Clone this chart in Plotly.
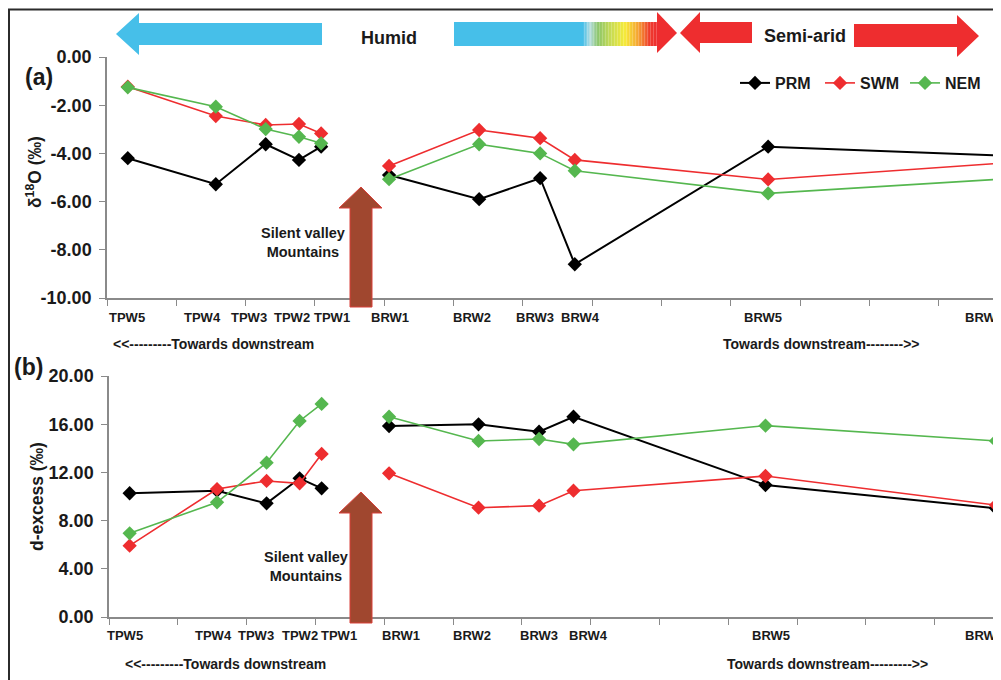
import plotly.graph_objects as go

# ---------------- data ----------------
sites = ["TPW5", "TPW4", "TPW3", "TPW2", "TPW1",
         "BRW1", "BRW2", "BRW3", "BRW4", "BRW5", "BRW6"]
site_km = [3.0, 15.7, 22.9, 27.7, 30.9, 40.7, 53.7, 62.5, 67.5, 95.4, 128.9]

d18o_prm = [-4.20, -5.28, -3.62, -4.27, -3.72, -4.90, -5.90, -5.03, -8.60, -3.72, -4.09]
d18o_swm = [-1.23, -2.45, -2.82, -2.78, -3.17, -4.52, -3.03, -3.37, -4.27, -5.08, -4.41]
d18o_nem = [-1.26, -2.06, -2.99, -3.31, -3.58, -5.07, -3.62, -4.00, -4.72, -5.66, -5.07]

dex_prm = [10.27, 10.48, 9.43, 11.51, 10.68, 15.85, 15.99, 15.38, 16.62, 10.95, 9.02]
dex_swm = [5.92, 10.62, 11.29, 11.09, 13.53, 11.92, 9.07, 9.24, 10.48, 11.70, 9.29]
dex_nem = [6.94, 9.52, 12.81, 16.27, 17.68, 16.62, 14.61, 14.77, 14.33, 15.88, 14.61]

series_names = ["PRM", "SWM", "NEM"]
y_ticks_a = [0, -2, -4, -6, -8, -10]
y_ticks_b = [0, 4, 8, 12, 16, 20]

# ---------------- styling ----------------
W, H = 1001, 680
OFF = 8  # page offset of the figure inside the browser window
FONT = "Liberation Sans"
TXT = "#1a1a1a"
AX = "#8a8a8a"
colors = {"PRM": "#000000", "SWM": "#EE2D2F", "NEM": "#55B74F"}
widths = {"PRM": 2.0, "SWM": 1.6, "NEM": 1.6}
nudge_a = [-1, -13, -17, -7, 11, 1, -7, -5, 6, -5, -16]
nudge_b = [-5, -4, -11, 0, 17, 12, -7, 0, 15, 6, -12]


def fx(p):
    return (p - OFF) / W


def fy(p):
    return 1 - (p - OFF) / H


def with_gap(vals):
    # break the line between the two river stretches (TPW / BRW)
    split = sum(1 for s in sites if s.startswith("TPW"))
    return list(vals[:split]) + [None] + list(vals[split:])


fig = go.Figure()
panel_a = {"PRM": d18o_prm, "SWM": d18o_swm, "NEM": d18o_nem}
panel_b = {"PRM": dex_prm, "SWM": dex_swm, "NEM": dex_nem}
xg = with_gap(site_km)
for name in series_names:
    fig.add_trace(go.Scatter(
        x=xg, y=with_gap(panel_a[name]), name=name, mode="lines+markers",
        line=dict(color=colors[name], width=widths[name]),
        marker=dict(symbol="diamond", size=11, color=colors[name]),
        xaxis="x", yaxis="y", connectgaps=False, showlegend=True))
for name in series_names:
    fig.add_trace(go.Scatter(
        x=xg, y=with_gap(panel_b[name]), name=name, mode="lines+markers",
        line=dict(color=colors[name], width=widths[name]),
        marker=dict(symbol="diamond", size=11, color=colors[name]),
        xaxis="x2", yaxis="y2", connectgaps=False, showlegend=False,
        cliponaxis=False))

tickfont = dict(family=FONT, size=18, color=TXT, weight="bold")
common_x = dict(showline=True, linecolor=AX, linewidth=1.5, ticks="outside",
                ticklen=6, tickcolor=AX, tickwidth=1.2, tick0=0, dtick=10,
                showticklabels=False, showgrid=False, zeroline=False,
                automargin=False)
common_y = dict(showline=True, linecolor=AX, linewidth=1.5, ticks="outside",
                ticklen=6, tickcolor=AX, tickwidth=1.2, showgrid=False,
                zeroline=False, tickfont=tickfont, ticklabelstandoff=4,
                automargin=False)

fig.update_layout(
    width=W, height=H, margin=dict(l=0, r=0, t=0, b=0, pad=0, autoexpand=False),
    paper_bgcolor="white", plot_bgcolor="white",
    xaxis=dict(domain=[fx(107), fx(1001)], range=[0, 129.0], anchor="y", **common_x),
    yaxis=dict(domain=[fy(298), fy(57)], range=[-10, 0], anchor="x",
               tickvals=y_ticks_a, ticktext=[f"{v:.2f}" for v in y_ticks_a], **common_y),
    xaxis2=dict(domain=[fx(109), fx(996)], range=[0, 128.9], anchor="y2", **common_x),
    yaxis2=dict(domain=[fy(617), fy(376)], range=[0, 20], anchor="x2",
                tickvals=y_ticks_b, ticktext=[f"{v:.2f}" for v in y_ticks_b], **common_y),
    legend=dict(orientation="h", x=fx(990), xanchor="right", y=fy(83), yanchor="middle",
                font=dict(family=FONT, size=16, color=TXT, weight="bold"),
                bgcolor="rgba(0,0,0,0)", itemwidth=30, tracegroupgap=0,
                entrywidth=40),
    showlegend=True,
)

ann = []


def text(x, y, s, size, **kw):
    ann.append(dict(x=fx(x), y=fy(y), xref="paper", yref="paper", text=s,
                    showarrow=False, xanchor=kw.pop("xanchor", "center"),
                    yanchor="middle",
                    font=dict(family=FONT, size=size, color=TXT, weight="bold"), **kw))


# site labels
for i, s in enumerate(sites):
    ann.append(dict(x=site_km[i], y=fy(318), xref="x", yref="paper", text=s,
                    showarrow=False, xshift=nudge_a[i], yanchor="middle",
                    font=dict(family=FONT, size=13, color=TXT, weight="bold")))
    ann.append(dict(x=site_km[i], y=fy(635), xref="x2", yref="paper", text=s,
                    showarrow=False, xshift=nudge_b[i], yanchor="middle",
                    font=dict(family=FONT, size=13, color=TXT, weight="bold")))

text(213, 344, "&lt;&lt;---------Towards downstream", 14)
text(821, 344, "Towards downstream--------&gt;&gt;", 14)
text(225, 664, "&lt;&lt;---------Towards downstream", 14)
text(827, 664, "Towards downstream---------&gt;&gt;", 14)
text(39, 77, "(a)", 23)
text(28, 367, "(b)", 23)
text(389, 38, "Humid", 18)
text(805, 36, "Semi-arid", 18)
text(303, 242, "Silent valley<br>Mountains", 14.5)
text(306, 566, "Silent valley<br>Mountains", 14.5)
text(34, 172, "δ<sup>18</sup>O (‰)", 17.5, textangle=-90)
text(37, 497, "d-excess (‰)", 17.5, textangle=-90)
fig.update_layout(annotations=ann)

# ---------------- decorative arrows ----------------
shapes = []


def poly(pts, fill, line_color=None, lw=0):
    path = "M " + " L ".join(f"{fx(x):.5f},{fy(y):.5f}" for x, y in pts) + " Z"
    shapes.append(dict(type="path", xref="paper", yref="paper", path=path,
                       fillcolor=fill, line=dict(color=line_color or fill, width=lw),
                       layer="above"))


BLUE = "#46BFE9"
RED = "#EE2D2F"
# humid arrow pointing left
poly([(116, 34), (139, 13), (139, 23), (322, 23), (322, 45), (139, 45), (139, 55)], BLUE)
# humid -> semi-arid gradient arrow pointing right
poly([(454, 22), (584, 22), (584, 46), (454, 46)], BLUE)
stops = [(583, (70, 191, 233)), (590, (181, 221, 224)), (598, (141, 198, 107)),
         (610, (196, 218, 85)), (625, (246, 235, 58)), (638, (245, 164, 52)),
         (650, (238, 58, 46)), (658, (238, 45, 47))]


def interp(x):
    for (x0, c0), (x1, c1) in zip(stops[:-1], stops[1:]):
        if x0 <= x <= x1:
            t = (x - x0) / (x1 - x0)
            return tuple(round(a + (b - a) * t) for a, b in zip(c0, c1))
    return stops[-1][1]


xs = 583.0
while xs < 657:
    c = interp(xs + 0.75)
    shapes.append(dict(type="rect", xref="paper", yref="paper",
                       x0=fx(xs), x1=fx(xs + 1.6), y0=fy(46), y1=fy(22),
                       fillcolor=f"rgb{c}", line=dict(width=0), layer="above"))
    xs += 1.5
poly([(657, 12), (677, 33), (657, 53)], RED)
# semi-arid arrows
poly([(680, 33), (700, 12), (700, 22), (752, 22), (752, 43), (700, 43), (700, 53)], RED)
poly([(854, 24), (957, 24), (957, 15), (979, 36), (957, 57), (957, 47), (854, 47)], RED)

# silent valley arrows
BROWN = "#A0472F"
for tip, base, bottom in [(187, 208, 307), (492, 513, 623)]:
    poly([(361, tip), (382, base), (372, base), (372, bottom), (350, bottom),
          (350, base), (339, base)], BROWN, "#D8403A", 1)

# outer frame
shapes.append(dict(type="rect", xref="paper", yref="paper", x0=fx(9), x1=fx(1015),
                   y0=fy(700), y1=fy(9.5), line=dict(color="#2b2b2b", width=2),
                   fillcolor="rgba(0,0,0,0)", layer="above"))

fig.update_layout(shapes=shapes)
fig.write_html("out.html")
